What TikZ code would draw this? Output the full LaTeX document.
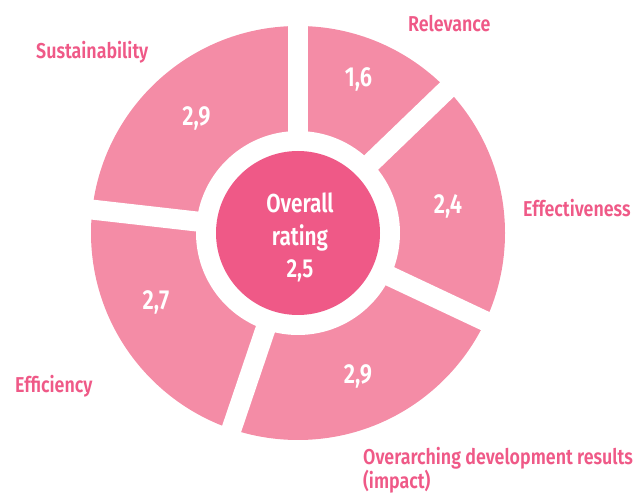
\documentclass[tikz,border=0pt]{standalone}
\usepackage{fontspec}
\usetikzlibrary{calc}
\newfontfamily\labfont{Fira Sans SemiBold}[FakeStretch=0.83]
\newfontfamily\numfont{Fira Sans SemiBold}[FakeStretch=0.8]
\definecolor{segpink}{RGB}{244,140,166}
\definecolor{darkpink}{RGB}{239,89,135}
\tikzset{
  labtext/.style={inner sep=0pt, text=darkpink, font=\labfont\fontsize{21.5}{22}\selectfont},
  numtext/.style={inner sep=0pt, text=white, font=\numfont\fontsize{27.5}{28}\selectfont},
  gapline/.style={draw=white, line width=20pt},
}
\begin{document}
\begin{tikzpicture}[x=1pt,y=1pt]
\useasboundingbox (0,0) rectangle (637,495);
\coordinate (C) at (298,262);
\fill[segpink] (C) circle (207);
\foreach \a in {90,43.92,-25.2,-108.72,-186.48}{
  \coordinate (g) at ($(C)+(\a:212)$);
  \draw[gapline] (C) -- (g);
}
\fill[white] (C) circle (102);
\node[circle, fill=darkpink, minimum size=164pt, inner sep=0pt] (center) at (C) {};
\node[inner sep=0pt, text=white, align=center, anchor=base,
  font=\numfont\fontsize{26}{32.5}\selectfont] (overall) at (300,217) {Overall\\rating\\2,5};
\node[numtext, anchor=base] (n1) at (358.5,408) {1,6};
\node[numtext, anchor=base] (n2) at (448,281) {2,4};
\node[numtext, anchor=base] (n3) at (358,111) {2,9};
\node[numtext, anchor=base] (n4) at (156,185) {2,7};
\node[numtext, anchor=base] (n5) at (196.5,369) {2,9};
\node[labtext, anchor=base west] (l1) at (408,463) {Relevance};
\node[labtext, anchor=base west] (l2) at (523,278) {Effectiveness};
\node[labtext, anchor=base west, align=left] (l3) at (363,6) {Overarching development results\\(impact)};
\node[labtext, anchor=base west] (l4) at (15,102) {Efficiency};
\node[labtext, anchor=base west] (l5) at (36,436) {Sustainability};
\end{tikzpicture}
\end{document}
